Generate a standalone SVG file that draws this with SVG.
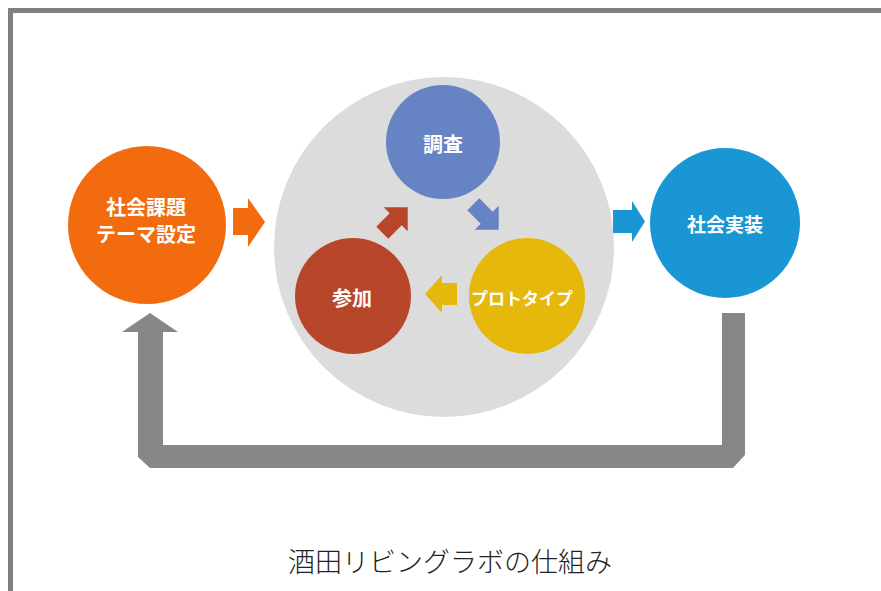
<svg xmlns="http://www.w3.org/2000/svg" width="881" height="591" viewBox="0 0 881 591">
<defs>
<style>
.lbl{font-family:"Noto Sans CJK JP","Noto Sans",sans-serif;font-weight:bold;fill:#ffffff;text-anchor:middle;dominant-baseline:central}
.title{font-family:"Noto Sans CJK JP","Noto Sans",sans-serif;font-weight:300;fill:#222222;text-anchor:middle}
</style>
<path id="arr" d="M-18,-8.5 L1,-8.5 L1,-17 L18,0 L1,17 L1,8.5 L-18,8.5 Z"/>
</defs>
<rect x="0" y="0" width="881" height="591" fill="#ffffff"/>
<rect x="10.5" y="10.5" width="900" height="600" fill="none" stroke="#7f7f7f" stroke-width="5"/>
<g id="cycle-bg"><circle cx="444" cy="247" r="170" fill="#dcdcdc"/></g>
<g id="connectors">
<path d="M233,208 L248,208 L248,198 L265,222 L248,247 L248,235 L233,235 Z" fill="#f26b0f"/>
<path d="M613,210 L632,210 L632,201 L645,221.5 L632,242 L632,233 L613,233 Z" fill="#1a96d4"/>
<use href="#arr" transform="translate(486,217) rotate(45)" fill="#6683c3"/>
<use href="#arr" transform="translate(395,220) rotate(-45)" fill="#b8462a"/>
<path d="M457,283 L442,283 L442,275 L425,294 L442,313 L442,305 L457,305 Z" fill="#e5b80b"/>
<path d="M150,313 L178,332 L163,332 L163,445 L722,445 L722,313 L745,313 L745,455 L733,468 L150,468 L138,457 L138,332 L122,332 Z" fill="#878787"/>
</g>
<g id="node-theme">
<circle cx="147" cy="225" r="79" fill="#f26b0f"/>
<text class="lbl" x="146" y="206" font-size="20">社会課題</text>
<text class="lbl" x="146" y="233" font-size="20">テーマ設定</text>
</g>
<g id="node-survey">
<circle cx="443" cy="142" r="57" fill="#6683c3"/>
<text class="lbl" x="443" y="143" font-size="20">調査</text>
</g>
<g id="node-participation">
<circle cx="353" cy="296" r="58" fill="#b8462a"/>
<text class="lbl" x="352" y="297" font-size="20">参加</text>
</g>
<g id="node-prototype">
<circle cx="527" cy="296" r="58" fill="#e5b80b"/>
<text class="lbl" x="522" y="297" font-size="17">プロトタイプ</text>
</g>
<g id="node-implementation">
<circle cx="725" cy="223" r="75" fill="#1a96d4"/>
<text class="lbl" x="725" y="223" font-size="19">社会実装</text>
</g>
<text class="title" x="450" y="572" font-size="27">酒田リビングラボの仕組み</text>
</svg>
